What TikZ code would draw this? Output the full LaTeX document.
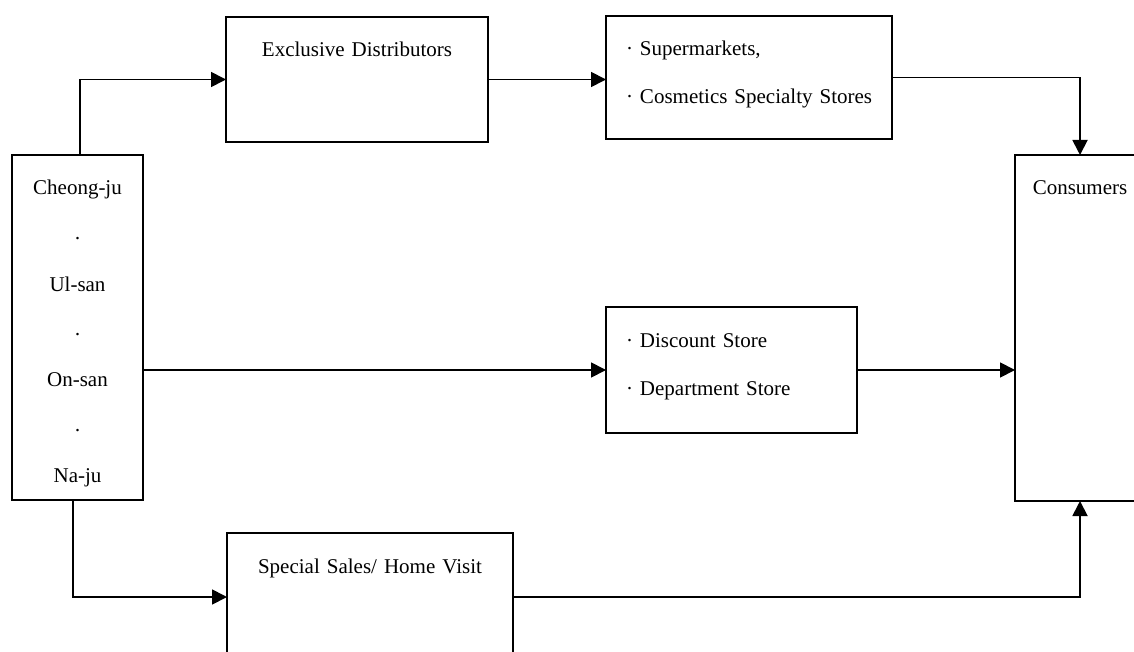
\documentclass[tikz,border=0pt]{standalone}
\usepackage{fontspec}
\setmainfont{Liberation Serif}
\usepackage{tikz}
\usetikzlibrary{arrows.meta}

\begin{document}
\begin{tikzpicture}[
  x=0.5pt, y=-0.5pt,
  font=\fontsize{10.5}{24}\selectfont,
  >={Triangle[length=7.5pt, width=7.5pt]},
  box/.style={draw, line width=0.9pt, anchor=north west, inner sep=0pt,
              outer sep=0pt, text height=20pt},
  flow/.style={->, line width=0.9pt},
]
\useasboundingbox (0,0) rectangle (1134,652);

% ---- boxes
\node[box, align=center, text width=65.5pt, text depth=152.5pt] (src) at (12,155)
  {Cheong-ju\\\raisebox{-1.5pt}{·}\\Ul-san\\\raisebox{-1.5pt}{·}\\On-san\\\raisebox{-1.5pt}{·}\\Na-ju};
\node[box, align=center, text width=131pt, text depth=42.5pt] (excl) at (226,17)
  {Exclusive Distributors};
\node[box, align=left, inner xsep=10pt, text width=123pt, text depth=41.5pt] (super) at (606,16)
  {\mbox{·\ Supermarkets,}\\\mbox{·\ Cosmetics Specialty Stores}};
\node[box, align=left, inner xsep=10pt, text width=105.5pt, text depth=43pt] (disc) at (606,307)
  {\mbox{·\ Discount Store}\\\mbox{·\ Department Store}};
\node[box, align=center, text width=65pt, text depth=153pt] (cons) at (1015,155)
  {Consumers};
\node[box, align=center, text width=143pt, text depth=44pt] (spec) at (227,533)
  {Special Sales/ Home Visit};

% ---- connectors
\draw[flow] ([xshift=1.25pt]src.north) |- (excl.west);
\draw[flow] (excl.east) -- (excl.east -| super.west);
\draw[flow] (super.east) -| (cons.north);
\draw[flow] (disc.west -| src.east) -- (disc.west);
\draw[flow] (disc.east) -- (disc.east -| cons.west);
\draw[flow] ([xshift=-2.25pt]src.south) |- (spec.west);
\draw[flow] (spec.east) -| (cons.south);
\end{tikzpicture}
\end{document}
